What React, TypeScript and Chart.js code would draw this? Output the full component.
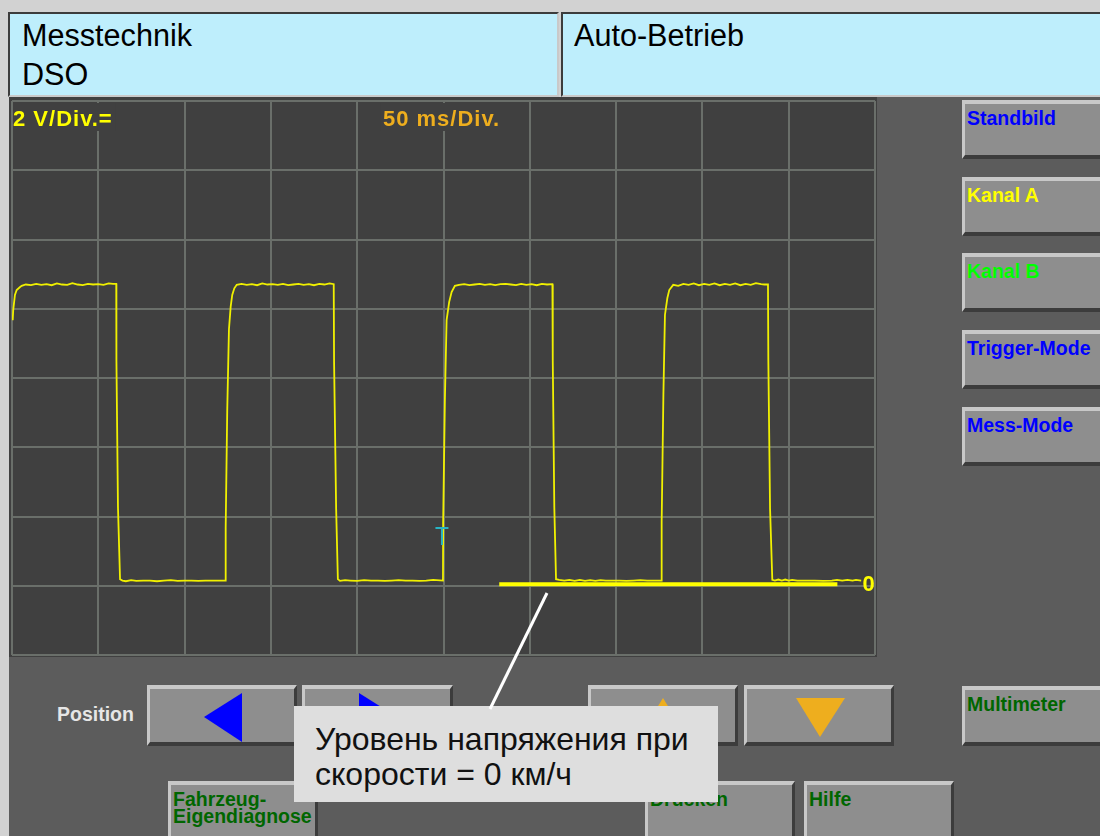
import React, { useEffect, useRef } from "react";
import { Chart, registerables } from "chart.js";

Chart.register(...registerables);

// ---------- chart data ----------
const SIGNAL_TIME_MS: number[] = [
  0.4, 0.7, 1.7, 2.7, 4.5, 5.6, 8, 11, 14, 17, 20, 23, 26, 29, 32, 35, 38, 41, 44, 47, 50, 53, 56, 58.5, 60.4,
  60.5, 61.4, 62.6,
  64, 66, 69, 72, 76, 80, 84, 88, 92, 96, 100, 104, 108, 112, 116, 120, 123.6,
  123.8, 124.7, 125.7, 126.7, 127.6, 128.8, 130.2,
  133, 136, 139, 142, 145, 148, 151, 154, 157, 160, 163, 166, 169, 172, 175, 178, 181, 184, 186.4,
  186.6, 187.8, 188.8,
  190, 193, 196, 200, 204, 208, 212, 216, 220, 224, 228, 232, 236, 240, 244, 249.7,
  249.8, 250.8, 251.8, 253.3, 254.7, 256.6,
  259, 262, 265, 268, 271, 274, 277, 280, 283, 286, 289, 292, 295, 298, 301, 304, 307, 310, 313.1,
  313.3, 314.2, 315.2,
  317, 320, 323, 326, 329, 332, 335, 338, 341, 344, 348, 352, 356, 360, 364, 368, 372, 376.2,
  376.4, 377.4, 378.3, 379.7, 380.8, 383.1,
  386, 389, 392, 395, 398, 401, 404, 407, 410, 413, 416, 419, 422, 425, 428, 431, 434, 436, 438,
  438.2, 439.2, 440.5,
  442, 444, 446, 448, 450, 452, 455, 460, 465, 470, 475, 478, 481, 484, 487, 489, 492,
];

const SIGNAL_VOLTS: number[] = [
  7.67, 7.96, 8.4, 8.54, 8.62, 8.66, 8.7, 8.68, 8.72, 8.69, 8.71, 8.68, 8.73, 8.7, 8.69, 8.74, 8.7, 8.68, 8.72, 8.7, 8.71, 8.69, 8.73, 8.72, 8.72,
  6.52, 2.27, 0.19,
  0.15, 0.13, 0.16, 0.14, 0.15, 0.15, 0.13, 0.15, 0.16, 0.14, 0.15, 0.15, 0.14, 0.15, 0.15, 0.15, 0.15,
  1.67, 5.06, 7.41, 8.06, 8.4, 8.59, 8.69,
  8.72, 8.69, 8.71, 8.68, 8.73, 8.7, 8.71, 8.69, 8.72, 8.68, 8.7, 8.72, 8.69, 8.71, 8.68, 8.72, 8.7, 8.73, 8.71,
  6.47, 2.22, 0.19,
  0.14, 0.16, 0.15, 0.14, 0.16, 0.15, 0.15, 0.14, 0.15, 0.16, 0.15, 0.15, 0.14, 0.15, 0.17, 0.15,
  1.81, 5.37, 7.67, 8.2, 8.48, 8.66,
  8.69, 8.71, 8.68, 8.7, 8.72, 8.69, 8.71, 8.68, 8.71, 8.72, 8.7, 8.68, 8.72, 8.69, 8.71, 8.68, 8.72, 8.7, 8.71,
  6.52, 2.27, 0.19,
  0.17, 0.15, 0.17, 0.14, 0.17, 0.14, 0.16, 0.14, 0.16, 0.15, 0.15, 0.15, 0.14, 0.15, 0.16, 0.15, 0.15, 0.15,
  1.85, 5.51, 7.82, 8.31, 8.54, 8.69,
  8.66, 8.72, 8.69, 8.73, 8.68, 8.72, 8.69, 8.73, 8.68, 8.72, 8.69, 8.73, 8.68, 8.72, 8.69, 8.74, 8.71, 8.7, 8.7,
  6.52, 2.22, 0.17,
  0.15, 0.18, 0.15, 0.18, 0.15, 0.17, 0.15, 0.15, 0.15, 0.14, 0.15, 0.17, 0.15, 0.17, 0.15, 0.17, 0.15,
];

// zero-level highlight bar (ms range) and its level (V)
const ZERO_BAR_MS: number[] = [282.3, 478.2];
const ZERO_BAR_V = 0.04;

// trigger marker
const TRIGGER_MS = 249.1;
const TRIGGER_V = 1.67;

// axis divisions
const TIME_MIN_MS = 0;
const TIME_MAX_MS = 500;
const TIME_DIV_MS = 50;
const VOLT_MIN = -2;
const VOLT_MAX = 14;
const VOLT_DIV = 2;

// on-screen labels
const VOLT_LABEL = "2 V/Div.=";
const TIME_LABEL = "50 ms/Div.";
const ZERO_LABEL = "0";

const HEADER_LEFT = ["Messtechnik", "DSO"];
const HEADER_RIGHT = "Auto-Betrieb";
const SIDE_BUTTONS = ["Standbild", "Kanal A", "Kanal B", "Trigger-Mode", "Mess-Mode"];
const SIDE_COLORS = ["#0000ff", "#ffff00", "#00ff00", "#0000ff", "#0000ff"];
const CALLOUT_LINES = ["Уровень напряжения при", "скорости = 0 км/ч"];

const FONT = '"Liberation Sans", Arial, sans-serif';
const ORANGE = "#eeae1e";

const overlayPlugin = {
  id: "scopeOverlay",
  beforeDatasetsDraw(chart: any) {
    const { ctx, chartArea } = chart;
    const xs = chart.scales.x;
    ctx.save();
    ctx.font = `bold 22px ${FONT}`;
    try { (ctx as any).letterSpacing = "1px"; } catch (e) {}
    ctx.textBaseline = "alphabetic";
    const w1 = ctx.measureText(VOLT_LABEL).width;
    ctx.fillStyle = "#404040";
    ctx.fillRect(chartArea.left + 1.5, chartArea.top + 2, w1 + 2, 28);
    ctx.fillStyle = "#ffff00";
    ctx.textAlign = "left";
    ctx.fillText(VOLT_LABEL, chartArea.left + 1, chartArea.top + 25);
    const w2 = ctx.measureText(TIME_LABEL).width;
    const cx = xs.getPixelForValue((TIME_MIN_MS + TIME_MAX_MS) / 2) - 2;
    ctx.fillStyle = "#404040";
    ctx.fillRect(cx - w2 / 2 - 2, chartArea.top + 2, w2 + 4, 28);
    ctx.fillStyle = ORANGE;
    ctx.textAlign = "center";
    ctx.fillText(TIME_LABEL, cx, chartArea.top + 25);
    ctx.restore();
  },
  afterDatasetsDraw(chart: any) {
    const { ctx, chartArea } = chart;
    const xs = chart.scales.x;
    const ys = chart.scales.y;
    ctx.save();
    ctx.font = `bold 22px ${FONT}`;
    ctx.fillStyle = "#ffff00";
    ctx.textAlign = "left";
    ctx.textBaseline = "alphabetic";
    ctx.fillText(ZERO_LABEL, chartArea.right - 12.5, ys.getPixelForValue(0) + 5);
    const tx = xs.getPixelForValue(TRIGGER_MS);
    const ty = ys.getPixelForValue(TRIGGER_V);
    ctx.strokeStyle = "#28b4c4";
    ctx.lineWidth = 2;
    ctx.beginPath();
    ctx.moveTo(tx - 6.5, ty);
    ctx.lineTo(tx + 6.5, ty);
    ctx.moveTo(tx, ty);
    ctx.lineTo(tx, ty + 17);
    ctx.stroke();
    ctx.restore();
  },
};

function Scope() {
  const ref = useRef<HTMLCanvasElement>(null);
  useEffect(() => {
    if (!ref.current) return;
    const gridOpts = { color: "#6a6f6a", lineWidth: 2, drawTicks: false };
    const chart = new Chart(ref.current, {
      type: "line",
      data: {
        datasets: [
          {
            data: SIGNAL_TIME_MS.map((t, i) => ({ x: t, y: SIGNAL_VOLTS[i] })),
            borderColor: "#f0f000",
            borderWidth: 1.8,
            pointRadius: 0,
            tension: 0,
            fill: false,
          },
          {
            data: ZERO_BAR_MS.map((t) => ({ x: t, y: ZERO_BAR_V })),
            borderColor: "#ffff00",
            borderWidth: 4,
            pointRadius: 0,
            borderCapStyle: "butt",
            fill: false,
          },
        ],
      },
      options: {
        animation: false,
        responsive: false,
        devicePixelRatio: 1,
        events: [],
        layout: { padding: { left: 3, top: 4, right: 2, bottom: 2 } },
        plugins: { legend: { display: false }, tooltip: { enabled: false } },
        scales: {
          x: {
            type: "linear",
            min: TIME_MIN_MS,
            max: TIME_MAX_MS,
            ticks: { display: false, stepSize: TIME_DIV_MS },
            grid: gridOpts,
            border: { display: false },
            afterFit: (s: any) => { s.height = 0; },
          },
          y: {
            type: "linear",
            min: VOLT_MIN,
            max: VOLT_MAX,
            ticks: { display: false, stepSize: VOLT_DIV },
            grid: gridOpts,
            border: { display: false },
            afterFit: (s: any) => { s.width = 0; },
          },
        },
      } as any,
      plugins: [overlayPlugin],
    });
    return () => chart.destroy();
  }, []);
  return (
    <canvas
      ref={ref}
      width={868}
      height={560}
      style={{ position: "absolute", left: 0, top: 0, width: 868, height: 560 }}
    />
  );
}

function Btn(props: { left: number; top: number; width: number; height: number; children?: any }) {
  return (
    <div
      style={{
        position: "absolute",
        left: props.left,
        top: props.top,
        width: props.width,
        height: props.height,
        boxSizing: "border-box",
        background: "#8e8e8e",
        borderTop: "4px solid #c8c8c8",
        borderLeft: "3px solid #c8c8c8",
        borderBottom: "4px solid #3c3c3c",
        borderRight: "3px solid #3c3c3c",
      }}
    >
      {props.children}
    </div>
  );
}

function BtnText(props: { color: string; children: any }) {
  return (
    <div
      style={{
        position: "absolute",
        left: 2,
        top: 6,
        color: props.color,
        fontFamily: FONT,
        fontWeight: "bold",
        fontSize: 19.5,
        lineHeight: "17px",
        whiteSpace: "pre",
      }}
    >
      {props.children}
    </div>
  );
}

export default function App() {
  return (
    <div
      style={{
        position: "fixed",
        left: 0,
        top: 0,
        width: 1100,
        height: 836,
        overflow: "hidden",
        background: "#d2d2d2",
        fontFamily: FONT,
      }}
    >
      {/* header */}
      <div
        style={{
          position: "absolute",
          left: 8,
          top: 12,
          width: 551,
          height: 85,
          boxSizing: "border-box",
          background: "#beeefc",
          borderTop: "2px solid #3c3c3c",
          borderLeft: "2px solid #3c3c3c",
          borderBottom: "2px solid #c9c9c9",
          borderRight: "2px solid #c9c9c9",
        }}
      >
        <div style={{ position: "absolute", left: 12, top: 2, fontSize: 30.6, lineHeight: "39px", color: "#000" }}>
          {HEADER_LEFT.map((s) => (
            <div key={s}>{s}</div>
          ))}
        </div>
      </div>
      <div
        style={{
          position: "absolute",
          left: 561,
          top: 12,
          width: 560,
          height: 85,
          boxSizing: "border-box",
          background: "#beeefc",
          borderTop: "2px solid #3c3c3c",
          borderLeft: "2px solid #3c3c3c",
          borderBottom: "2px solid #c9c9c9",
        }}
      >
        <div style={{ position: "absolute", left: 11, top: 2, fontSize: 30.6, lineHeight: "39px", color: "#000" }}>
          {HEADER_RIGHT}
        </div>
      </div>

      {/* panel */}
      <div style={{ position: "absolute", left: 9, top: 97, width: 1091, height: 739, background: "#5c5c5c" }} />

      {/* scope screen */}
      <div style={{ position: "absolute", left: 9, top: 97, width: 868, height: 560, background: "#404040" }}>
        <Scope />
      </div>

      {/* side buttons */}
      {SIDE_BUTTONS.map((label, i) => (
        <Btn key={label} left={962} top={100 + i * 76.7} width={150} height={59}>
          <BtnText color={SIDE_COLORS[i]}>{label}</BtnText>
        </Btn>
      ))}

      {/* position row */}
      <div
        style={{
          position: "absolute",
          left: 57,
          top: 705,
          color: "#e6e6e6",
          fontWeight: "bold",
          fontSize: 19.5,
          lineHeight: 1,
        }}
      >
        Position
      </div>
      <Btn left={147} top={685} width={150} height={61} />
      <Btn left={302} top={685} width={151} height={61} />
      <Btn left={588} top={685} width={150} height={61} />
      <Btn left={744} top={685} width={150} height={61} />
      <Btn left={962} top={686} width={150} height={60}>
        <BtnText color="#006600">Multimeter</BtnText>
      </Btn>

      {/* bottom row */}
      <Btn left={168} top={781} width={150} height={70}>
        <BtnText color="#006600">{"Fahrzeug-\nEigendiagnose"}</BtnText>
      </Btn>
      <Btn left={645} top={781} width={150} height={70}>
        <BtnText color="#006600">Drucken</BtnText>
      </Btn>
      <Btn left={804} top={781} width={150} height={70}>
        <BtnText color="#006600">Hilfe</BtnText>
      </Btn>

      {/* arrows */}
      <svg width={1100} height={836} style={{ position: "absolute", left: 0, top: 0 }}>
        <polygon points="204,717 242,693 242,742" fill="#0000ff" />
        <polygon points="359,693 359,742 397,717" fill="#0000ff" />
        <polygon points="639,737 687,737 663,698" fill={ORANGE} />
        <polygon points="796,698 845,698 820,737" fill={ORANGE} />
      </svg>

      {/* callout */}
      <div
        style={{
          position: "absolute",
          left: 294,
          top: 706,
          width: 424,
          height: 96,
          boxSizing: "border-box",
          background: "#dedede",
          paddingLeft: 21,
          paddingTop: 16,
          fontSize: 32,
          lineHeight: "35px",
          color: "#111",
          whiteSpace: "nowrap",
        }}
      >
        {CALLOUT_LINES.map((s) => (
          <div key={s}>{s}</div>
        ))}
      </div>
      <svg width={1100} height={836} style={{ position: "absolute", left: 0, top: 0 }}>
        <line x1={547} y1={593} x2={490} y2={709} stroke="#ffffff" strokeWidth={3} />
      </svg>
    </div>
  );
}
